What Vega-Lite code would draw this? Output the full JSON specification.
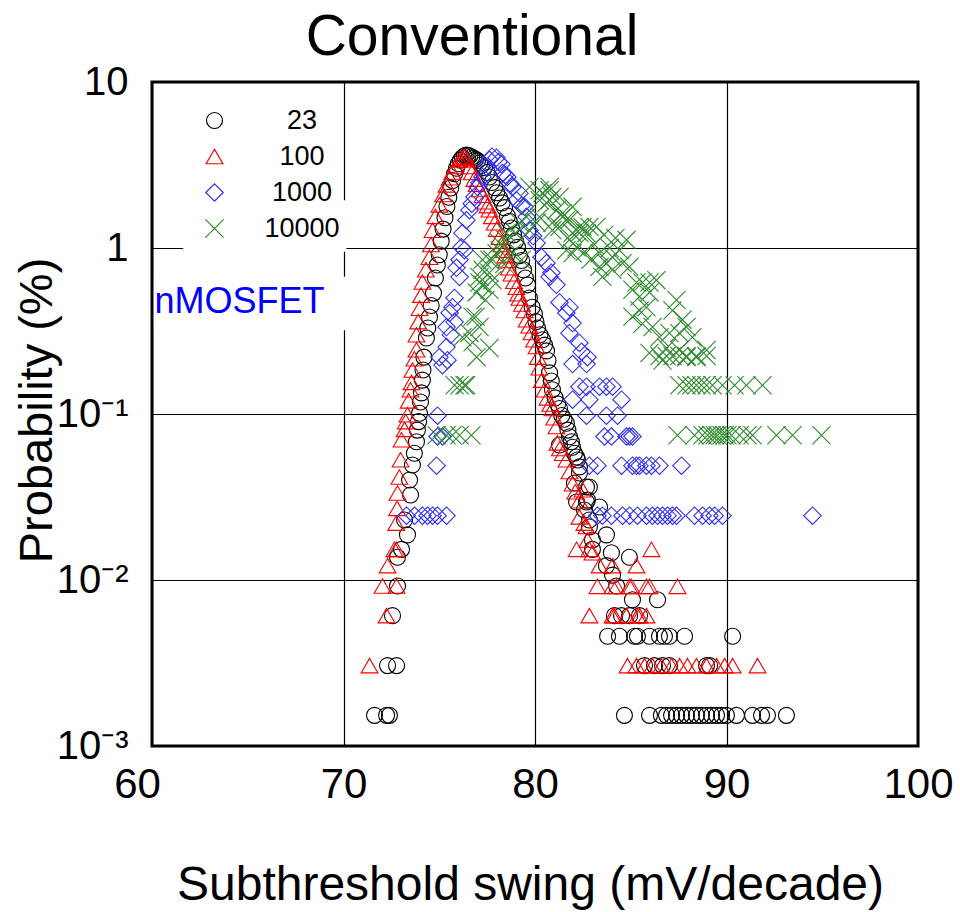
{
"$schema": "https://vega.github.io/schema/vega-lite/v6.json",
"width": 766,
"height": 664,
"autosize": {"type": "none"},
"padding": {"left": 152, "top": 82, "right": 42, "bottom": 166},
"background": "white",
"title": {"text": "Conventional", "fontSize": 57, "font": "Liberation Sans", "fontWeight": "normal", "anchor": "middle", "dx": -63, "dy": 8, "offset": 3, "color": "black"},
"config": {
  "view": {"stroke": "black", "strokeWidth": 3},
  "axis": {"grid": true, "gridColor": "black", "gridWidth": 1.2, "gridOpacity": 1, "ticks": false, "domain": false, "labelFont": "Liberation Sans", "labelFontSize": 42, "labelColor": "black", "titleFont": "Liberation Sans", "titleFontWeight": "normal", "titleColor": "black", "labelOverlap": false},
  "legend": {"orient": "none", "legendX": 39, "legendY": 15, "labelFont": "Liberation Sans", "labelFontSize": 27, "labelColor": "black", "labelAlign": "center", "labelOffset": 74, "symbolSize": 256, "symbolStrokeWidth": 1.2, "rowPadding": 8, "padding": 10}
},
"layer": [
  {
    "data": {"values": [{}]},
    "mark": {"type": "rect", "fill": "white"},
    "encoding": {
      "x": {"datum": 61.63, "type": "quantitative", "scale": {"domain": [60, 100], "nice": false, "zero": false}, "title": "Subthreshold swing (mV/decade)"},
      "x2": {"datum": 70.15},
      "y": {"datum": 0.95, "type": "quantitative", "scale": {"type": "log", "domain": [0.001, 10], "nice": false}, "title": "Probability (%)"},
      "y2": {"datum": 1.94}
    }
  },
  {
    "data": {"values": [{}]},
    "mark": {"type": "rect", "fill": "white"},
    "encoding": {
      "x": {"datum": 60.1, "type": "quantitative", "title": "Subthreshold swing (mV/decade)"},
      "x2": {"datum": 70.15},
      "y": {"datum": 0.32, "type": "quantitative", "title": "Probability (%)"},
      "y2": {"datum": 0.67}
    }
  },
  {
    "data": {"values": [{}]},
    "mark": {"type": "text", "text": "nMOSFET", "align": "left", "baseline": "middle", "fontSize": 36, "font": "Liberation Sans", "color": "#0000ff"},
    "encoding": {
      "x": {"datum": 60.13, "type": "quantitative", "title": "Subthreshold swing (mV/decade)"},
      "y": {"datum": 0.47, "type": "quantitative", "title": "Probability (%)"}
    }
  },
  {
    "data": {"values": [
{"s":"23","x":71.62,"p":0.00153},{"s":"23","x":72.25,"p":0.00153},{"s":"23","x":72.4,"p":0.00153},{"s":"23","x":72.3,"p":0.00305},{"s":"23","x":72.77,"p":0.00305},{"s":"23","x":72.56,"p":0.0061},{"s":"23","x":72.82,"p":0.0092},{"s":"23","x":72.82,"p":0.0137},{"s":"23","x":73.03,"p":0.0153},{"s":"23","x":73.34,"p":0.0187},{"s":"23","x":73.19,"p":0.023},{"s":"23","x":73.5,"p":0.0325},{"s":"23","x":73.45,"p":0.04},{"s":"23","x":73.6,"p":0.0493},{"s":"23","x":73.7,"p":0.058},{"s":"23","x":73.81,"p":0.068},{"s":"23","x":73.86,"p":0.08},{"s":"23","x":73.92,"p":0.09},{"s":"23","x":73.97,"p":0.101},{"s":"23","x":74.02,"p":0.118},{"s":"23","x":74.07,"p":0.134},{"s":"23","x":74.12,"p":0.16},{"s":"23","x":74.15,"p":0.184},{"s":"23","x":74.2,"p":0.22},{"s":"23","x":74.33,"p":0.287},{"s":"23","x":74.4,"p":0.33},{"s":"23","x":74.49,"p":0.384},{"s":"23","x":74.58,"p":0.45},{"s":"23","x":74.7,"p":0.535},{"s":"23","x":74.8,"p":0.66},{"s":"23","x":74.9,"p":0.79},{"s":"23","x":75.0,"p":0.91},{"s":"23","x":75.1,"p":1.1},{"s":"23","x":75.2,"p":1.3},{"s":"23","x":75.3,"p":1.52},{"s":"23","x":75.4,"p":1.78},{"s":"23","x":75.5,"p":2.02},{"s":"23","x":75.6,"p":2.3},{"s":"23","x":75.7,"p":2.55},{"s":"23","x":75.8,"p":2.8},{"s":"23","x":75.9,"p":3.02},{"s":"23","x":76.0,"p":3.22},{"s":"23","x":76.1,"p":3.38},{"s":"23","x":76.2,"p":3.5},{"s":"23","x":76.3,"p":3.58},{"s":"23","x":76.4,"p":3.63},{"s":"23","x":76.5,"p":3.62},{"s":"23","x":76.6,"p":3.58},{"s":"23","x":76.7,"p":3.53},{"s":"23","x":76.8,"p":3.47},{"s":"23","x":76.9,"p":3.42},{"s":"23","x":77.0,"p":3.36},{"s":"23","x":77.1,"p":3.25},{"s":"23","x":77.2,"p":3.15},{"s":"23","x":77.36,"p":3.05},{"s":"23","x":77.5,"p":2.85},{"s":"23","x":77.62,"p":2.68},{"s":"23","x":77.75,"p":2.48},{"s":"23","x":77.89,"p":2.31},{"s":"23","x":78.0,"p":2.15},{"s":"23","x":78.15,"p":2.0},{"s":"23","x":78.28,"p":1.87},{"s":"23","x":78.41,"p":1.75},{"s":"23","x":78.56,"p":1.56},{"s":"23","x":78.66,"p":1.45},{"s":"23","x":78.77,"p":1.32},{"s":"23","x":78.88,"p":1.2},{"s":"23","x":78.98,"p":1.1},{"s":"23","x":79.09,"p":1.01},{"s":"23","x":79.19,"p":0.9},{"s":"23","x":79.3,"p":0.84},{"s":"23","x":79.4,"p":0.74},{"s":"23","x":79.5,"p":0.66},{"s":"23","x":79.61,"p":0.6},{"s":"23","x":79.71,"p":0.5},{"s":"23","x":79.85,"p":0.44},{"s":"23","x":79.97,"p":0.4},{"s":"23","x":80.05,"p":0.36},{"s":"23","x":80.13,"p":0.33},{"s":"23","x":80.26,"p":0.3},{"s":"23","x":80.39,"p":0.28},{"s":"23","x":80.5,"p":0.26},{"s":"23","x":80.6,"p":0.24},{"s":"23","x":80.68,"p":0.21},{"s":"23","x":80.76,"p":0.177},{"s":"23","x":80.85,"p":0.158},{"s":"23","x":80.91,"p":0.14},{"s":"23","x":81.05,"p":0.125},{"s":"23","x":81.18,"p":0.115},{"s":"23","x":81.28,"p":0.108},{"s":"23","x":81.4,"p":0.098},{"s":"23","x":81.52,"p":0.093},{"s":"23","x":81.64,"p":0.088},{"s":"23","x":81.72,"p":0.08},{"s":"23","x":81.8,"p":0.073},{"s":"23","x":81.9,"p":0.068},{"s":"23","x":81.96,"p":0.063},{"s":"23","x":82.06,"p":0.058},{"s":"23","x":81.28,"p":0.065},{"s":"23","x":82.17,"p":0.0551},{"s":"23","x":82.22,"p":0.0528},{"s":"23","x":82.32,"p":0.048},{"s":"23","x":82.32,"p":0.0441},{"s":"23","x":82.06,"p":0.0384},{"s":"23","x":82.69,"p":0.0363},{"s":"23","x":82.84,"p":0.0363},{"s":"23","x":82.58,"p":0.0264},{"s":"23","x":82.74,"p":0.0303},{"s":"23","x":82.17,"p":0.0295},{"s":"23","x":82.69,"p":0.0295},{"s":"23","x":83.37,"p":0.0275},{"s":"23","x":82.84,"p":0.023},{"s":"23","x":82.84,"p":0.0209},{"s":"23","x":83.0,"p":0.0174},{"s":"23","x":83.73,"p":0.0187},{"s":"23","x":83.0,"p":0.0153},{"s":"23","x":83.99,"p":0.0146},{"s":"23","x":84.93,"p":0.0137},{"s":"23","x":83.73,"p":0.0122},{"s":"23","x":84.05,"p":0.0107},{"s":"23","x":84.26,"p":0.0092},{"s":"23","x":85.09,"p":0.0076},{"s":"23","x":86.4,"p":0.0076},{"s":"23","x":84.15,"p":0.0061},{"s":"23","x":84.52,"p":0.0061},{"s":"23","x":84.94,"p":0.0061},{"s":"23","x":85.46,"p":0.0061},
{"s":"23","x":83.79,"p":0.00458},{"s":"23","x":84.41,"p":0.00458},{"s":"23","x":85.2,"p":0.00458},{"s":"23","x":85.35,"p":0.00458},{"s":"23","x":85.98,"p":0.00458},{"s":"23","x":86.5,"p":0.00458},{"s":"23","x":86.76,"p":0.00458},{"s":"23","x":87.02,"p":0.00458},{"s":"23","x":87.81,"p":0.00458},{"s":"23","x":90.32,"p":0.00458},
{"s":"23","x":85.72,"p":0.00305},{"s":"23","x":86.24,"p":0.00305},{"s":"23","x":86.66,"p":0.00305},{"s":"23","x":87.02,"p":0.00305},{"s":"23","x":88.96,"p":0.00305},{"s":"23","x":89.12,"p":0.00305},
{"s":"23","x":84.67,"p":0.00153},{"s":"23","x":85.98,"p":0.00153},{"s":"23","x":86.6,"p":0.00153},{"s":"23","x":86.87,"p":0.00153},{"s":"23","x":87.13,"p":0.00153},{"s":"23","x":87.39,"p":0.00153},{"s":"23","x":87.65,"p":0.00153},{"s":"23","x":87.91,"p":0.00153},{"s":"23","x":88.17,"p":0.00153},{"s":"23","x":88.43,"p":0.00153},{"s":"23","x":88.69,"p":0.00153},{"s":"23","x":88.96,"p":0.00153},{"s":"23","x":89.22,"p":0.00153},{"s":"23","x":89.48,"p":0.00153},{"s":"23","x":89.74,"p":0.00153},{"s":"23","x":90.0,"p":0.00153},{"s":"23","x":90.52,"p":0.00153},{"s":"23","x":91.36,"p":0.00153},{"s":"23","x":91.83,"p":0.00153},{"s":"23","x":92.14,"p":0.00153},{"s":"23","x":93.13,"p":0.00153},
{"s":"100","x":71.36,"p":0.00305},{"s":"100","x":72.25,"p":0.0061},{"s":"100","x":72.04,"p":0.0092},{"s":"100","x":72.77,"p":0.0092},{"s":"100","x":72.3,"p":0.0122},{"s":"100","x":72.66,"p":0.0153},{"s":"100","x":72.77,"p":0.0153},{"s":"100","x":72.75,"p":0.022},{"s":"100","x":72.8,"p":0.027},{"s":"100","x":72.82,"p":0.0334},{"s":"100","x":72.92,"p":0.0417},{"s":"100","x":72.98,"p":0.053},{"s":"100","x":73.03,"p":0.0699},{"s":"100","x":73.19,"p":0.0808},{"s":"100","x":73.25,"p":0.09},{"s":"100","x":73.34,"p":0.099},{"s":"100","x":73.4,"p":0.12},{"s":"100","x":73.5,"p":0.14},{"s":"100","x":73.55,"p":0.155},{"s":"100","x":73.6,"p":0.184},{"s":"100","x":73.7,"p":0.215},{"s":"100","x":73.81,"p":0.244},{"s":"100","x":73.81,"p":0.3},{"s":"100","x":73.9,"p":0.36},{"s":"100","x":73.97,"p":0.434},{"s":"100","x":74.05,"p":0.52},{"s":"100","x":74.12,"p":0.624},{"s":"100","x":74.3,"p":0.74},{"s":"100","x":74.49,"p":0.88},{"s":"100","x":74.57,"p":1.05},{"s":"100","x":74.65,"p":1.28},{"s":"100","x":74.8,"p":1.55},{"s":"100","x":75.01,"p":1.82},{"s":"100","x":75.2,"p":2.1},{"s":"100","x":75.38,"p":2.4},{"s":"100","x":75.55,"p":2.65},{"s":"100","x":75.69,"p":2.87},{"s":"100","x":75.85,"p":3.1},{"s":"100","x":76.06,"p":3.39},{"s":"100","x":76.2,"p":3.48},{"s":"100","x":76.32,"p":3.53},{"s":"100","x":76.45,"p":3.4},{"s":"100","x":76.58,"p":3.1},{"s":"100","x":76.7,"p":2.85},{"s":"100","x":76.83,"p":2.6},{"s":"100","x":76.95,"p":2.42},{"s":"100","x":77.1,"p":2.25},{"s":"100","x":77.26,"p":2.08},{"s":"100","x":77.4,"p":1.9},{"s":"100","x":77.52,"p":1.8},{"s":"100","x":77.62,"p":1.7},{"s":"100","x":77.75,"p":1.55},{"s":"100","x":77.89,"p":1.42},{"s":"100","x":78.0,"p":1.3},{"s":"100","x":78.15,"p":1.16},{"s":"100","x":78.25,"p":1.05},{"s":"100","x":78.35,"p":0.97},{"s":"100","x":78.45,"p":0.9},{"s":"100","x":78.51,"p":0.84},{"s":"100","x":78.64,"p":0.76},{"s":"100","x":78.77,"p":0.7},{"s":"100","x":78.9,"p":0.63},{"s":"100","x":79.03,"p":0.58},{"s":"100","x":79.12,"p":0.53},{"s":"100","x":79.19,"p":0.5},{"s":"100","x":79.32,"p":0.46},{"s":"100","x":79.45,"p":0.42},{"s":"100","x":79.56,"p":0.37},{"s":"100","x":79.7,"p":0.34},{"s":"100","x":79.82,"p":0.31},{"s":"100","x":79.95,"p":0.28},{"s":"100","x":80.08,"p":0.255},{"s":"100","x":80.15,"p":0.22},{"s":"100","x":80.23,"p":0.19},{"s":"100","x":80.36,"p":0.16},{"s":"100","x":80.5,"p":0.14},{"s":"100","x":80.65,"p":0.125},{"s":"100","x":80.8,"p":0.115},{"s":"100","x":80.91,"p":0.108},{"s":"100","x":81.0,"p":0.095},{"s":"100","x":81.12,"p":0.084},{"s":"100","x":81.17,"p":0.067},{"s":"100","x":81.3,"p":0.062},{"s":"100","x":81.45,"p":0.058},{"s":"100","x":81.64,"p":0.053},{"s":"100","x":81.8,"p":0.045},{"s":"100","x":81.96,"p":0.038},{"s":"100","x":82.1,"p":0.034},{"s":"100","x":82.32,"p":0.03},{"s":"100","x":82.48,"p":0.035},{"s":"100","x":82.32,"p":0.024},{"s":"100","x":82.58,"p":0.022},{"s":"100","x":82.69,"p":0.021},{"s":"100","x":82.74,"p":0.0174},{"s":"100","x":83.0,"p":0.0146},{"s":"100","x":82.17,"p":0.0153},{"s":"100","x":82.84,"p":0.0153},{"s":"100","x":86.08,"p":0.0153},{"s":"100","x":83.37,"p":0.0122},{"s":"100","x":84.05,"p":0.0122},{"s":"100","x":85.3,"p":0.0122},
{"s":"100","x":83.26,"p":0.00916},{"s":"100","x":84.05,"p":0.00916},{"s":"100","x":84.26,"p":0.00916},{"s":"100","x":84.94,"p":0.00916},{"s":"100","x":85.04,"p":0.00916},{"s":"100","x":85.82,"p":0.00916},{"s":"100","x":85.98,"p":0.00916},{"s":"100","x":87.44,"p":0.00916},
{"s":"100","x":82.84,"p":0.0061},{"s":"100","x":84.05,"p":0.0061},{"s":"100","x":84.15,"p":0.0061},{"s":"100","x":84.78,"p":0.0061},{"s":"100","x":85.35,"p":0.0061},{"s":"100","x":85.46,"p":0.0061},{"s":"100","x":85.82,"p":0.0061},
{"s":"100","x":84.83,"p":0.00305},{"s":"100","x":85.3,"p":0.00305},{"s":"100","x":85.72,"p":0.00305},{"s":"100","x":86.13,"p":0.00305},{"s":"100","x":86.6,"p":0.00305},{"s":"100","x":87.13,"p":0.00305},{"s":"100","x":87.55,"p":0.00305},{"s":"100","x":87.96,"p":0.00305},{"s":"100","x":88.43,"p":0.00305},{"s":"100","x":88.96,"p":0.00305},{"s":"100","x":89.48,"p":0.00305},{"s":"100","x":89.9,"p":0.00305},{"s":"100","x":90.32,"p":0.00305},{"s":"100","x":91.62,"p":0.00305},
{"s":"1000","x":73.29,"p":0.0244},{"s":"1000","x":73.71,"p":0.0244},{"s":"1000","x":74.12,"p":0.0244},{"s":"1000","x":74.39,"p":0.0244},{"s":"1000","x":74.65,"p":0.0244},{"s":"1000","x":74.91,"p":0.0244},{"s":"1000","x":75.38,"p":0.0244},{"s":"1000","x":83.26,"p":0.0244},{"s":"1000","x":83.52,"p":0.0244},{"s":"1000","x":83.99,"p":0.0244},{"s":"1000","x":84.57,"p":0.0244},{"s":"1000","x":84.94,"p":0.0244},{"s":"1000","x":85.35,"p":0.0244},{"s":"1000","x":85.82,"p":0.0244},{"s":"1000","x":86.13,"p":0.0244},{"s":"1000","x":86.4,"p":0.0244},{"s":"1000","x":86.66,"p":0.0244},{"s":"1000","x":86.92,"p":0.0244},{"s":"1000","x":87.18,"p":0.0244},{"s":"1000","x":87.39,"p":0.0244},{"s":"1000","x":88.33,"p":0.0244},{"s":"1000","x":88.75,"p":0.0244},{"s":"1000","x":89.11,"p":0.0244},{"s":"1000","x":89.38,"p":0.0244},{"s":"1000","x":89.79,"p":0.0244},{"s":"1000","x":94.49,"p":0.0244},
{"s":"1000","x":74.86,"p":0.0488},{"s":"1000","x":82.84,"p":0.0488},{"s":"1000","x":83.26,"p":0.0488},{"s":"1000","x":84.52,"p":0.0488},{"s":"1000","x":85.09,"p":0.0488},{"s":"1000","x":85.3,"p":0.0488},{"s":"1000","x":85.46,"p":0.0488},{"s":"1000","x":85.82,"p":0.0488},{"s":"1000","x":86.08,"p":0.0488},{"s":"1000","x":86.5,"p":0.0488},{"s":"1000","x":87.65,"p":0.0488},
{"s":"1000","x":74.91,"p":0.0732},{"s":"1000","x":75.17,"p":0.0732},{"s":"1000","x":83.63,"p":0.0732},{"s":"1000","x":83.99,"p":0.0732},{"s":"1000","x":84.78,"p":0.0732},{"s":"1000","x":84.93,"p":0.0732},{"s":"1000","x":85.09,"p":0.0732},
{"s":"1000","x":74.91,"p":0.0977},{"s":"1000","x":82.69,"p":0.0977},{"s":"1000","x":83.73,"p":0.0977},{"s":"1000","x":84.31,"p":0.0977},
{"s":"1000","x":81.96,"p":0.122},{"s":"1000","x":82.84,"p":0.122},{"s":"1000","x":84.52,"p":0.122},
{"s":"1000","x":82.32,"p":0.146},{"s":"1000","x":82.69,"p":0.146},{"s":"1000","x":83.37,"p":0.146},{"s":"1000","x":83.73,"p":0.146},{"s":"1000","x":84.05,"p":0.146},
{"s":"1000","x":75.01,"p":0.22},{"s":"1000","x":75.17,"p":0.197},{"s":"1000","x":75.43,"p":0.211},{"s":"1000","x":75.38,"p":0.253},{"s":"1000","x":75.6,"p":0.3},{"s":"1000","x":75.38,"p":0.334},{"s":"1000","x":75.54,"p":0.406},{"s":"1000","x":75.8,"p":0.358},{"s":"1000","x":75.69,"p":0.44},{"s":"1000","x":75.8,"p":0.5},{"s":"1000","x":75.9,"p":0.76},{"s":"1000","x":76.06,"p":0.67},{"s":"1000","x":76.06,"p":0.85},{"s":"1000","x":76.32,"p":0.97},{"s":"1000","x":76.16,"p":1.01},{"s":"1000","x":76.21,"p":1.23},{"s":"1000","x":76.42,"p":1.47},{"s":"1000","x":76.58,"p":1.69},{"s":"1000","x":76.7,"p":1.85},{"s":"1000","x":76.84,"p":2.03},{"s":"1000","x":77.0,"p":2.33},{"s":"1000","x":77.1,"p":2.47},{"s":"1000","x":77.26,"p":2.68},{"s":"1000","x":77.46,"p":3.08},{"s":"1000","x":77.62,"p":3.4},{"s":"1000","x":77.75,"p":3.55},{"s":"1000","x":77.99,"p":3.5},{"s":"1000","x":78.1,"p":3.3},{"s":"1000","x":78.25,"p":3.2},{"s":"1000","x":78.3,"p":2.83},{"s":"1000","x":78.45,"p":2.75},{"s":"1000","x":78.56,"p":2.68},{"s":"1000","x":78.7,"p":2.45},{"s":"1000","x":78.82,"p":2.33},{"s":"1000","x":79.03,"p":1.94},{"s":"1000","x":79.19,"p":2.14},{"s":"1000","x":79.3,"p":1.8},{"s":"1000","x":79.45,"p":1.77},{"s":"1000","x":79.56,"p":1.54},{"s":"1000","x":79.71,"p":1.28},{"s":"1000","x":79.9,"p":1.18},{"s":"1000","x":80.08,"p":1.07},{"s":"1000","x":80.34,"p":0.88},{"s":"1000","x":80.6,"p":0.81},{"s":"1000","x":80.76,"p":0.67},{"s":"1000","x":80.86,"p":0.71},{"s":"1000","x":81.12,"p":0.6},{"s":"1000","x":81.28,"p":0.47},{"s":"1000","x":81.64,"p":0.406},{"s":"1000","x":81.8,"p":0.44},{"s":"1000","x":81.96,"p":0.353},{"s":"1000","x":81.8,"p":0.307},{"s":"1000","x":82.32,"p":0.268},{"s":"1000","x":82.43,"p":0.237},{"s":"1000","x":82.74,"p":0.22},{"s":"1000","x":81.96,"p":0.2},{"s":"1000","x":82.69,"p":0.2},
{"s":"10000","x":74.86,"p":0.0745},{"s":"10000","x":75.38,"p":0.0745},{"s":"10000","x":75.69,"p":0.0745},{"s":"10000","x":76.06,"p":0.0745},{"s":"10000","x":76.68,"p":0.0745},{"s":"10000","x":87.44,"p":0.0745},{"s":"10000","x":88.33,"p":0.0745},{"s":"10000","x":88.75,"p":0.0745},{"s":"10000","x":89.01,"p":0.0745},{"s":"10000","x":89.22,"p":0.0745},{"s":"10000","x":89.38,"p":0.0745},{"s":"10000","x":89.53,"p":0.0745},{"s":"10000","x":89.74,"p":0.0745},{"s":"10000","x":89.9,"p":0.0745},{"s":"10000","x":90.05,"p":0.0745},{"s":"10000","x":90.26,"p":0.0745},{"s":"10000","x":90.68,"p":0.0745},{"s":"10000","x":91.1,"p":0.0745},{"s":"10000","x":91.36,"p":0.0745},{"s":"10000","x":92.61,"p":0.0745},{"s":"10000","x":93.45,"p":0.0745},{"s":"10000","x":94.96,"p":0.0745},
{"s":"10000","x":75.8,"p":0.149},{"s":"10000","x":76.06,"p":0.149},{"s":"10000","x":76.32,"p":0.149},{"s":"10000","x":76.4,"p":0.149},{"s":"10000","x":87.54,"p":0.149},{"s":"10000","x":87.91,"p":0.149},{"s":"10000","x":88.17,"p":0.149},{"s":"10000","x":88.43,"p":0.149},{"s":"10000","x":88.69,"p":0.149},{"s":"10000","x":88.96,"p":0.149},{"s":"10000","x":89.27,"p":0.149},{"s":"10000","x":89.79,"p":0.149},{"s":"10000","x":90.42,"p":0.149},{"s":"10000","x":91.04,"p":0.149},{"s":"10000","x":91.88,"p":0.149},
{"s":"10000","x":86.5,"p":0.2235},{"s":"10000","x":86.87,"p":0.2235},{"s":"10000","x":87.18,"p":0.2235},{"s":"10000","x":87.54,"p":0.2235},{"s":"10000","x":87.91,"p":0.2235},{"s":"10000","x":88.43,"p":0.2235},{"s":"10000","x":88.96,"p":0.2235},
{"s":"10000","x":76.21,"p":0.29},{"s":"10000","x":76.58,"p":0.307},{"s":"10000","x":76.74,"p":0.27},{"s":"10000","x":76.74,"p":0.386},{"s":"10000","x":76.9,"p":0.386},{"s":"10000","x":76.95,"p":0.22},{"s":"10000","x":76.95,"p":0.54},{"s":"10000","x":77.1,"p":0.334},{"s":"10000","x":77.1,"p":0.62},{"s":"10000","x":77.1,"p":0.67},{"s":"10000","x":77.26,"p":0.74},{"s":"10000","x":77.26,"p":0.85},{"s":"10000","x":77.26,"p":0.6},{"s":"10000","x":77.41,"p":0.486},{"s":"10000","x":77.62,"p":0.56},{"s":"10000","x":77.62,"p":0.71},{"s":"10000","x":77.62,"p":0.85},{"s":"10000","x":77.62,"p":0.25},{"s":"10000","x":77.78,"p":0.64},{"s":"10000","x":77.78,"p":0.85},{"s":"10000","x":77.99,"p":0.93},{"s":"10000","x":78.15,"p":0.97},{"s":"10000","x":78.15,"p":1.07},{"s":"10000","x":78.4,"p":0.8},{"s":"10000","x":78.46,"p":1.12},{"s":"10000","x":78.51,"p":1.23},{"s":"10000","x":78.8,"p":0.93},{"s":"10000","x":78.98,"p":1.23},{"s":"10000","x":79.19,"p":1.42},{"s":"10000","x":79.3,"p":0.85},{"s":"10000","x":79.56,"p":1.54},{"s":"10000","x":79.71,"p":1.28},{"s":"10000","x":79.71,"p":2.33},{"s":"10000","x":80.08,"p":1.42},{"s":"10000","x":80.24,"p":1.54},{"s":"10000","x":80.24,"p":1.94},{"s":"10000","x":80.24,"p":2.23},{"s":"10000","x":80.39,"p":2.14},{"s":"10000","x":80.6,"p":1.87},{"s":"10000","x":80.76,"p":2.33},{"s":"10000","x":80.76,"p":1.94},{"s":"10000","x":80.76,"p":2.23},{"s":"10000","x":80.91,"p":2.03},{"s":"10000","x":80.91,"p":1.42},{"s":"10000","x":80.91,"p":1.28},{"s":"10000","x":81.12,"p":1.69},{"s":"10000","x":81.28,"p":2.03},{"s":"10000","x":81.28,"p":1.34},{"s":"10000","x":81.44,"p":1.54},{"s":"10000","x":81.44,"p":1.62},{"s":"10000","x":81.64,"p":1.48},{"s":"10000","x":81.64,"p":0.97},{"s":"10000","x":81.8,"p":1.48},{"s":"10000","x":81.8,"p":1.12},{"s":"10000","x":81.96,"p":1.77},{"s":"10000","x":81.96,"p":1.23},{"s":"10000","x":81.96,"p":0.93},{"s":"10000","x":82.17,"p":1.01},{"s":"10000","x":82.32,"p":1.23},{"s":"10000","x":82.32,"p":1.34},{"s":"10000","x":82.48,"p":1.34},{"s":"10000","x":82.6,"p":0.95},{"s":"10000","x":82.69,"p":1.23},{"s":"10000","x":82.84,"p":1.34},{"s":"10000","x":82.9,"p":0.85},{"s":"10000","x":83.1,"p":1.05},{"s":"10000","x":83.21,"p":1.34},{"s":"10000","x":83.37,"p":0.93},{"s":"10000","x":83.37,"p":0.77},{"s":"10000","x":83.52,"p":0.67},{"s":"10000","x":83.6,"p":1.2},{"s":"10000","x":83.73,"p":0.81},{"s":"10000","x":83.9,"p":1.0},{"s":"10000","x":84.05,"p":0.88},{"s":"10000","x":84.05,"p":0.74},{"s":"10000","x":84.2,"p":1.15},{"s":"10000","x":84.41,"p":0.97},{"s":"10000","x":84.57,"p":0.81},{"s":"10000","x":84.78,"p":1.12},{"s":"10000","x":84.93,"p":0.77},{"s":"10000","x":85.09,"p":0.56},{"s":"10000","x":85.09,"p":0.386},{"s":"10000","x":85.3,"p":0.62},{"s":"10000","x":85.46,"p":0.51},{"s":"10000","x":85.46,"p":0.42},{"s":"10000","x":85.61,"p":0.62},{"s":"10000","x":85.61,"p":0.35},{"s":"10000","x":85.82,"p":0.44},{"s":"10000","x":85.98,"p":0.62},{"s":"10000","x":85.98,"p":0.54},{"s":"10000","x":85.98,"p":0.233},{"s":"10000","x":86.14,"p":0.334},{"s":"10000","x":86.34,"p":0.64},{"s":"10000","x":86.5,"p":0.29},{"s":"10000","x":86.66,"p":0.21},{"s":"10000","x":86.87,"p":0.25},{"s":"10000","x":87.02,"p":0.307},{"s":"10000","x":87.18,"p":0.42},{"s":"10000","x":87.39,"p":0.486},{"s":"10000","x":87.54,"p":0.307},{"s":"10000","x":87.54,"p":0.243},{"s":"10000","x":87.7,"p":0.37},{"s":"10000","x":87.91,"p":0.334},{"s":"10000","x":87.91,"p":0.22},{"s":"10000","x":88.22,"p":0.29},{"s":"10000","x":88.43,"p":0.22},{"s":"10000","x":88.96,"p":0.243}
    ]},
    "mark": {"type": "point", "filled": false, "opacity": 1, "strokeWidth": 1.1},
    "encoding": {
      "x": {"field": "x", "type": "quantitative", "scale": {"domain": [60, 100], "nice": false, "zero": false}, "title": "Subthreshold swing (mV/decade)",
            "axis": {"values": [60, 70, 80, 90, 100], "labelFlush": false, "labelPadding": 18, "labelOffset": {"condition": {"test": "datum.value == 60", "value": -15}, "value": 0}, "titleFontSize": 48, "titleX": 378, "titleY": 139, "titleBaseline": "middle", "titleAlign": "center"}},
      "y": {"field": "p", "type": "quantitative", "scale": {"type": "log", "domain": [0.001, 10], "nice": false}, "title": "Probability (%)",
            "axis": {"values": [0.001, 0.01, 0.1, 1, 10], "labelPadding": 24, "labelFontSize": 40, "labelExpr": "datum.value > 5 ? '10' : datum.value > 0.5 ? '1' : datum.value > 0.05 ? '10⁻¹' : datum.value > 0.005 ? '10⁻²' : '10⁻³'", "titleFontSize": 47, "titleX": -115, "titleY": 328, "titleAngle": 270, "titleBaseline": "middle", "titleAlign": "center"}},
      "color": {"field": "s", "type": "nominal", "scale": {"domain": ["23", "100", "1000", "10000"], "range": ["#000000", "#ff0000", "#3030ff", "#2e8b2e"]}, "legend": {"title": null}},
      "shape": {"field": "s", "type": "nominal", "scale": {"domain": ["23", "100", "1000", "10000"], "range": ["circle", "triangle-up", "diamond", "M-1,-1L1,1M-1,1L1,-1"]}, "legend": {"title": null}},
      "size": {"field": "s", "type": "ordinal", "scale": {"domain": ["23", "100", "1000", "10000"], "range": [256, 330, 340, 361]}, "legend": null}
    }
  }
]
}
